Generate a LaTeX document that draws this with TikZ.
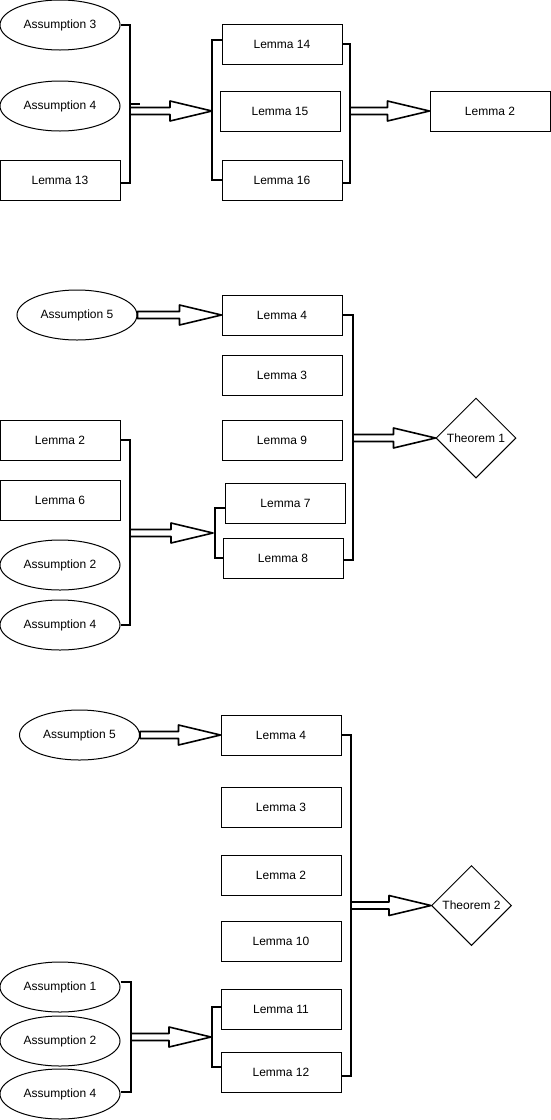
\documentclass[tikz,border=0pt]{standalone}
\usepackage{fontspec}
\setmainfont{Liberation Sans}
\usetikzlibrary{calc,shapes.geometric}
\tikzset{
  lbl/.style={font=\fontsize{12}{14}\selectfont, text=black},
  box/.style={lbl, draw=black, line width=1pt, minimum width=120pt, minimum height=40pt, inner sep=0pt},
  ell/.style={lbl, draw=black, line width=1pt, ellipse, minimum width=120pt, minimum height=50pt, inner sep=0pt},
  dia/.style={lbl, draw=black, line width=1pt, diamond, minimum width=80pt, minimum height=80pt, inner sep=0pt},
  brk/.style={draw=black, line width=1.6pt, line join=miter},
  farr/.style={draw=black, fill=white, line width=1.6pt, line join=round}
}
\newcommand\farrow[2]{%
  \draw[farr] ($(#1)+(0,-3.5)$) -- ($(#2)+(-42,-3.5)$) -- ($(#2)+(-42,-10)$) -- (#2)
    -- ($(#2)+(-42,10)$) -- ($(#2)+(-42,3.5)$) -- ($(#1)+(0,3.5)$) -- cycle;}
\begin{document}
\begin{tikzpicture}[x=1pt,y=-1pt]
\useasboundingbox (0,0) rectangle (551,1120);
% ---------- panel 1 ----------
\node[ell] (a3) at (60,25) {Assumption 3};
\node[ell] (a4a) at (60,106) {Assumption 4};
\node[box] (l13) at (60,180) {Lemma 13};
\node[box] (l14) at (282,44) {Lemma 14};
\node[box] (l15) at (280,111) {Lemma 15};
\node[box] (l16) at (282,180) {Lemma 16};
\node[box] (l2a) at (490,111) {Lemma 2};
\coordinate (b1) at (130,104);
\coordinate (s1) at (130,111);
\coordinate (b2) at (212,111);
\coordinate (b3) at (350,111);
\draw[brk] (a3.east) -| (b1) |- ($(l13.east)+(0,3)$);
\draw[brk] (b1) -- ++(10,0);
\draw[brk] ($(l14.west)+(0,-4)$) -| (b2) |- (l16.west);
\draw[brk] (l14.east) -| (b3) |- ($(l16.east)+(0,3)$);
\farrow{s1}{b2}
\farrow{b3}{l2a.west}
% ---------- panel 2 ----------
\node[ell] (a5b) at (77,315) {Assumption 5};
\node[box] (l4b) at (282,315) {Lemma 4};
\node[box] (l3b) at (282,375) {Lemma 3};
\node[box] (l9) at (282,440) {Lemma 9};
\node[box] (l7) at (285.5,503) {Lemma 7};
\node[box] (l8) at (283,558) {Lemma 8};
\node[dia] (t1) at (476,438) {Theorem 1};
\node[box] (l2b) at (60,440) {Lemma 2};
\node[box] (l6) at (60,500) {Lemma 6};
\node[ell] (a2b) at (60,565) {Assumption 2};
\node[ell] (a4b) at (60,625) {Assumption 4};
\coordinate (b4) at (353,438);
\coordinate (b5) at (130,533);
\coordinate (e5) at (213,533);
\coordinate (b6) at (215,533);
\draw[brk] (l4b.east) -| (b4) |- ($(l8.east)+(0,2)$);
\draw[brk] (l2b.east) -| (b5) |- (a4b.east);
\draw[brk] ($(l7.west)+(0,5)$) -| (b6) |- (l8.west);
\farrow{a5b.east}{l4b.west}
\farrow{b4}{t1.west}
\farrow{b5}{e5}
% ---------- panel 3 ----------
\node[ell] (a5c) at (79.5,735) {Assumption 5};
\node[box] (l4c) at (281,735) {Lemma 4};
\node[box] (l3c) at (281,807) {Lemma 3};
\node[box] (l2c) at (281,875) {Lemma 2};
\node[box] (l10) at (281,941) {Lemma 10};
\node[box] (l11) at (281,1009) {Lemma 11};
\node[box] (l12) at (281,1072) {Lemma 12};
\node[dia] (t2) at (471.5,905.5) {Theorem 2};
\node[ell] (a1) at (60,987) {Assumption 1};
\node[ell] (a2c) at (60,1041) {Assumption 2};
\node[ell] (a4c) at (60,1094) {Assumption 4};
\coordinate (b7) at (351,905.5);
\coordinate (b8) at (131,1037);
\coordinate (e8) at (211,1037);
\coordinate (b9) at (212,1037);
\draw[brk] (l4c.east) -| (b7) |- ($(l12.east)+(0,4)$);
\draw[brk] ($(a1.east)+(0,-5)$) -| (b8) |- ($(a4c.east)+(0,-2)$);
\draw[brk] ($(l11.west)+(0,-2)$) -| (b9) |- ($(l12.west)+(0,-5)$);
\farrow{a5c.east}{l4c.west}
\farrow{b7}{t2.west}
\farrow{b8}{e8}
\end{tikzpicture}
\end{document}
